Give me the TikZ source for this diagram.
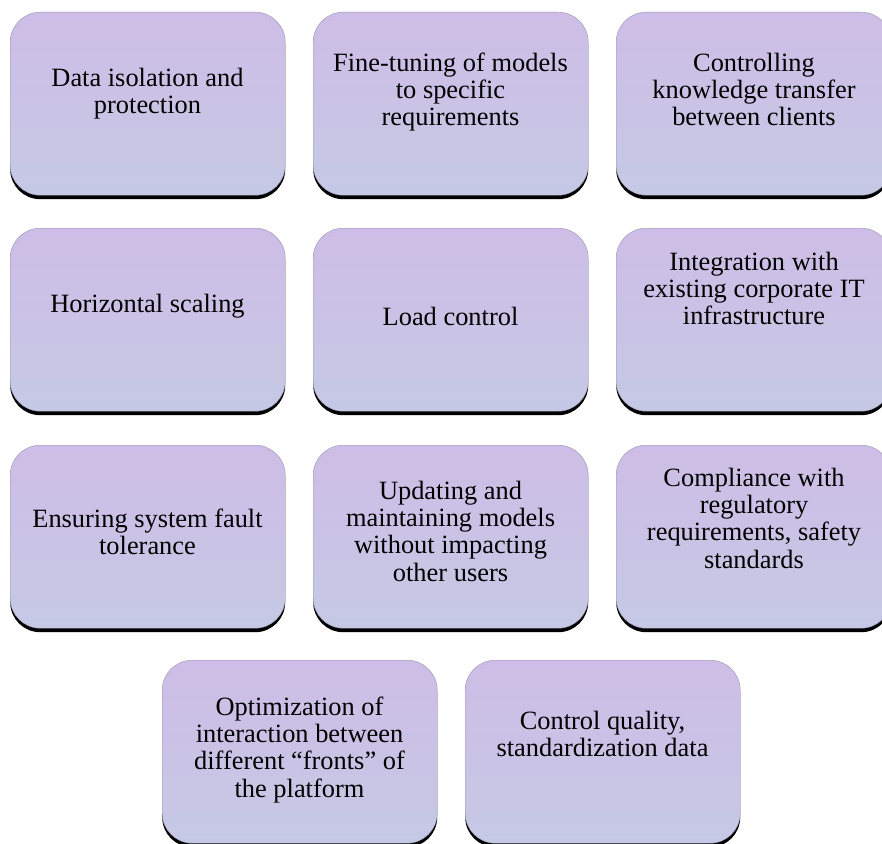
\documentclass[tikz,border=0pt]{standalone}
\usepackage{fontspec}
\setmainfont{Liberation Serif}
\usetikzlibrary{shadows}
\definecolor{boxtop}{RGB}{206,189,230}
\definecolor{boxbot}{RGB}{197,201,229}
\definecolor{boxedge}{RGB}{150,150,175}
\begin{document}
\begin{tikzpicture}[x=1pt,y=-1pt,
  box/.style={rounded corners=30pt, top color=boxtop, bottom color=boxbot,
    draw=boxedge, line width=0.4pt, minimum width=275pt, minimum height=183pt,
    inner sep=0pt, anchor=north west,
    drop shadow={shadow xshift=0pt, shadow yshift=-4pt, fill=black, opacity=1}},
  txt/.style={align=center, font=\fontsize{26.4}{27.2}\selectfont, inner sep=0pt}]
\useasboundingbox (0,0) rectangle (882,843);
% row 1
\node[box] (b1) at (10,12) {};
\node[box] (b2) at (313,12) {};
\node[box] (b3) at (616,12) {};
% row 2
\node[box] (b4) at (10,228) {};
\node[box] (b5) at (313,228) {};
\node[box] (b6) at (616,228) {};
% row 3
\node[box] (b7) at (10,445) {};
\node[box] (b8) at (313,445) {};
\node[box] (b9) at (616,445) {};
% row 4
\node[box] (b10) at (162,660) {};
\node[box] (b11) at (465,660) {};
% texts
\node[txt] (t1) at (147.5,94.8) {\strut Data isolation and\\\strut protection};
\node[txt] (t2) at (450.5,92.8) {\strut Fine-tuning of models\\\strut to specific\\\strut requirements};
\node[txt] (t3) at (754,92.8) {\strut Controlling\\\strut knowledge transfer\\\strut between clients};
\node[txt] (t4) at (147.5,306.8) {\strut Horizontal scaling};
\node[txt] (t5) at (450.5,319.8) {\strut Load control};
\node[txt] (t6) at (754,291.8) {\strut Integration with\\\strut existing corporate IT\\\strut infrastructure};
\node[txt] (t7) at (147.5,535.8) {\strut Ensuring system fault\\\strut tolerance};
\node[txt] (t8) at (450.5,534.8) {\strut Updating and\\\strut maintaining models\\\strut without impacting\\\strut other users};
\node[txt] (t9) at (754,521.8) {\strut Compliance with\\\strut regulatory\\\strut requirements, safety\\\strut standards};
\node[txt] (t10) at (299.5,750.8) {\strut Optimization of\\\strut interaction between\\\strut different “fronts” of\\\strut the platform};
\node[txt] (t11) at (602.5,737.8) {\strut Control quality,\\\strut standardization data};
\end{tikzpicture}
\end{document}
